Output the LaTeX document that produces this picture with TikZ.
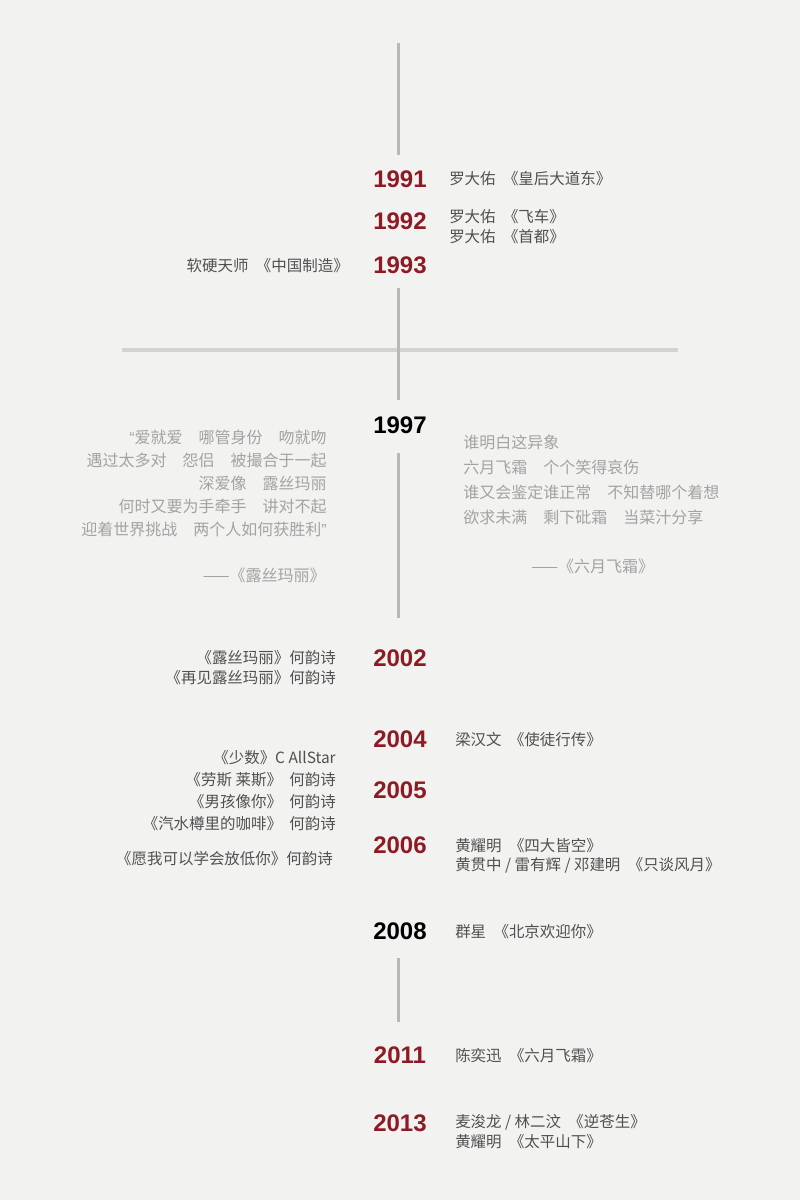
\documentclass[tikz,border=0pt]{standalone}
\usepackage{fontspec}
\newfontfamily\cjk{Noto Sans CJK SC}
\newfontfamily\yrf{Liberation Sans}
\newcommand\gp{\hspace{5.5pt}}
\newcommand\myopenq{{\yrf “}}
\newcommand\mycloseq{{\yrf ”}}
\definecolor{bgcol}{HTML}{F2F2F1}
\definecolor{yearred}{HTML}{8C1B24}
\definecolor{entgray}{HTML}{505050}
\definecolor{lyrgray}{HTML}{A3A3A3}
\definecolor{vgray}{HTML}{B8B8B8}
\definecolor{hgray}{HTML}{D3D3D3}
\begin{document}
\begin{tikzpicture}[x=0.75pt,y=-0.75pt,
  yr/.style={font=\yrf\bfseries\fontsize{18}{18}\selectfont, text=yearred, inner sep=0pt},
  yrb/.style={yr, text=black},
  ent/.style={font=\cjk\fontsize{11.6}{15}\selectfont, text=entgray, inner sep=0pt},
  entr/.style={ent, anchor=west, align=left},
  entl/.style={ent, anchor=east, align=right},
  lyr/.style={font=\cjk\fontsize{12}{17.4}\selectfont, text=lyrgray, inner sep=0pt},
  vline/.style={draw=vgray, line width=2.25pt},
  hline/.style={draw=hgray, line width=3pt}]
\fill[bgcol] (0,0) rectangle (800,1200);
\useasboundingbox (0,0) rectangle (800,1200);

% timeline segments
\coordinate (v1a) at (398,43);  \coordinate (v1b) at (398,155);
\coordinate (v2a) at (398,288); \coordinate (v2b) at (398,400);
\coordinate (v3a) at (398,453); \coordinate (v3b) at (398,618);
\coordinate (v4a) at (398,958); \coordinate (v4b) at (398,1022);
\coordinate (ha) at (122,350);  \coordinate (hb) at (678,350);
\draw[hline] (ha) -- (hb);
\draw[vline] (v1a) -- (v1b);
\draw[vline] (v2a) -- (v2b);
\draw[vline] (v3a) -- (v3b);
\draw[vline] (v4a) -- (v4b);

% years
\node[yr]  (y1991) at (400,179) {1991};
\node[yr]  (y1992) at (400,221) {1992};
\node[yr]  (y1993) at (400,265) {1993};
\node[yrb] (y1997) at (400,425) {1997};
\node[yr]  (y2002) at (400,658) {2002};
\node[yr]  (y2004) at (400,739) {2004};
\node[yr]  (y2005) at (400,790) {2005};
\node[yr]  (y2006) at (400,845) {2006};
\node[yrb] (y2008) at (400,931) {2008};
\node[yr]  (y2011) at (400,1055) {2011};
\node[yr]  (y2013) at (400,1123) {2013};

% entries
\node[entr] (e1991) at (449,179) {罗大佑\gp{}《皇后大道东》};
\node[entr] (e1992) at (449,227) {罗大佑\gp{}《飞车》\\罗大佑\gp{}《首都》};
\node[entl] (e1993) at (349,266) {软硬天师\gp{}《中国制造》};

\node[lyr, anchor=east, align=right] (lyrl) at (327,483.5)
  {\myopenq{}爱就爱　哪管身份　吻就吻\\遇过太多对　怨侣　被撮合于一起\\深爱像　露丝玛丽\\何时又要为手牵手　讲对不起\\迎着世界挑战　两个人如何获胜利\mycloseq{}};
\node[lyr, anchor=east] (srcl) at (326,575) {——《露丝玛丽》};
\node[lyr, anchor=west, align=left, font=\cjk\fontsize{12}{18.75}\selectfont] (lyrr) at (463,479.5)
  {谁明白这异象\\六月飞霜　个个笑得哀伤\\谁又会鉴定谁正常　不知替哪个着想\\欲求未满　剩下砒霜　当菜汁分享};
\node[lyr, anchor=west] (srcr) at (531,566) {——《六月飞霜》};

\node[entl] (e2002) at (336,668) {《露丝玛丽》何韵诗\\《再见露丝玛丽》何韵诗};
\node[entr] (e2004) at (455,740) {梁汉文\gp{}《使徒行传》};
\node[entl, font=\cjk\fontsize{11.6}{16.5}\selectfont] (e2005) at (336,791)
  {《少数》C AllStar\\《劳斯 莱斯》\gp{}何韵诗\\《男孩像你》\gp{}何韵诗\\《汽水樽里的咖啡》\gp{}何韵诗};
\node[entl] (e2006l) at (333,859) {《愿我可以学会放低你》何韵诗};
\node[entr, font=\cjk\fontsize{11.6}{14.25}\selectfont] (e2006) at (455,855.5)
  {黄耀明\gp{}《四大皆空》\\黄贯中 / 雷有辉 / 邓建明\gp{}《只谈风月》};
\node[entr] (e2008) at (455,932) {群星\gp{}《北京欢迎你》};
\node[entr] (e2011) at (455,1056) {陈奕迅\gp{}《六月飞霜》};
\node[entr] (e2013) at (455,1132) {麦浚龙 / 林二汶\gp{}《逆苍生》\\黄耀明\gp{}《太平山下》};
\end{tikzpicture}
\end{document}
